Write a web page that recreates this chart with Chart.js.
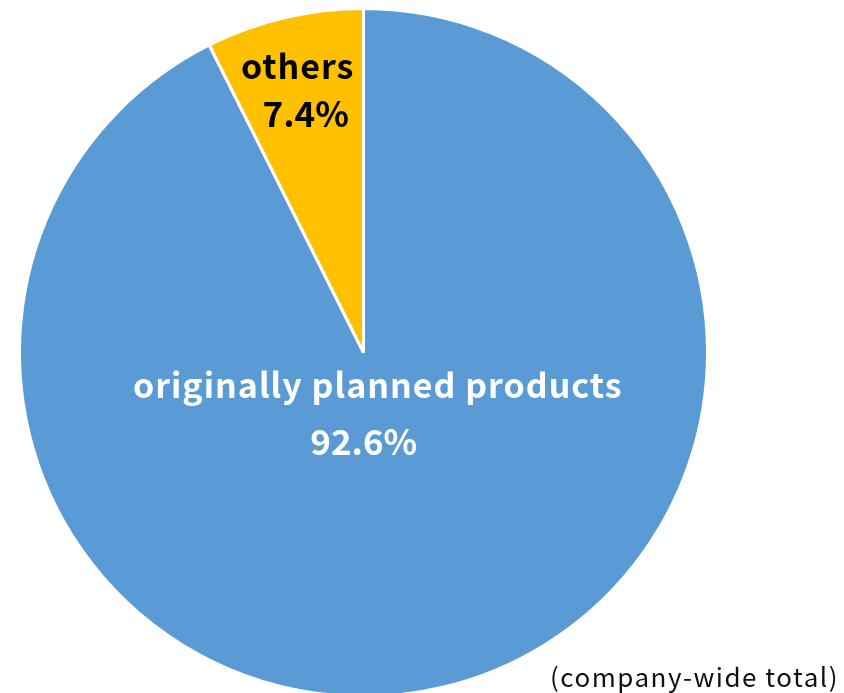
<!DOCTYPE html>
<html lang="en">
<head>
    <meta charset="UTF-8">
    <title>Product share</title>
    <script src="https://cdn.jsdelivr.net/npm/chart.js@4/dist/chart.umd.min.js"></script>
    <style>
        html, body {
            margin: 0;
            padding: 0;
            background: #fff;
            overflow: hidden;
        }
        #wrap {
            position: absolute;
            left: 0;
            top: 0;
            width: 844px;
            height: 704px;
        }
        #note {
            position: absolute;
            right: 5px;
            top: 658px;
            font-family: "Noto Sans CJK JP", "Noto Sans", sans-serif;
            font-size: 26px;
            letter-spacing: 1.5px;
            color: #111;
            line-height: 36px;
        }
    </style>
</head>
<body>
    <div id="wrap">
        <canvas id="myChart" width="844" height="704"></canvas>
    </div>
    <div id="note">(company-wide total)</div>

    <script>
        // chart data
        var labels = ['originally planned products', 'others'];
        var shares = [92.6, 7.4];
        var colors = ['#5B9BD5', '#FFC000'];

        // draws the name + percent inside each slice
        var sliceLabels = {
            id: 'sliceLabels',
            afterDatasetsDraw: function (chart) {
                var ctx = chart.ctx;
                var meta = chart.getDatasetMeta(0);
                // per slice: distance along mid angle, and line tweaks
                var place = [
                    { r: 0.18, b1: -15, b2: 42, dx1: 0, dx2: -14, color: '#fff' },
                    { r: 0.78, b1: -12, b2: 36, dx1: -4, dx2: 4, color: '#000' }
                ];
                meta.data.forEach(function (arc, i) {
                    var p = arc.getProps(['x', 'y', 'startAngle', 'endAngle', 'outerRadius'], true);
                    var mid = (p.startAngle + p.endAngle) / 2;
                    var cfg = place[i];
                    var ax = p.x + Math.cos(mid) * p.outerRadius * cfg.r;
                    var ay = p.y + Math.sin(mid) * p.outerRadius * cfg.r;
                    ctx.save();
                    ctx.fillStyle = cfg.color;
                    ctx.textAlign = 'center';
                    ctx.textBaseline = 'alphabetic';
                    ctx.font = 'bold 34px "Noto Sans CJK JP", "Noto Sans", sans-serif';
                    ctx.letterSpacing = '1px';
                    ctx.fillText(labels[i], ax + cfg.dx1, ay + cfg.b1);
                    ctx.font = 'bold 35px "Noto Sans CJK JP", "Noto Sans", sans-serif';
                    ctx.letterSpacing = '0px';
                    ctx.fillText(shares[i].toFixed(1) + '%', ax + cfg.dx2, ay + cfg.b2);
                    ctx.restore();
                });
            }
        };

        function createChart() {
            var ctx = document.getElementById('myChart').getContext('2d');
            new Chart(ctx, {
                type: 'pie',
                data: {
                    labels: labels,
                    datasets: [{
                        data: shares,
                        backgroundColor: colors,
                        borderColor: '#fff',
                        borderWidth: 3
                    }]
                },
                options: {
                    responsive: false,
                    animation: false,
                    layout: {
                        padding: { left: 18, right: 135, top: 7, bottom: 6 }
                    },
                    plugins: {
                        legend: { display: false },
                        tooltip: { enabled: false }
                    }
                },
                plugins: [sliceLabels]
            });
        }

        createChart();
    </script>
</body>
</html>
